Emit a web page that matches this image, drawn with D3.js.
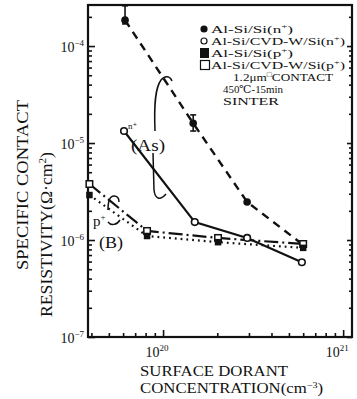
<!DOCTYPE html>
<html>
<head>
<meta charset="utf-8">
<script src="https://cdn.jsdelivr.net/npm/d3@7"></script>
<style>
  body { margin: 0; background: #fff; }
  svg { display: block; }
  text { font-family: "Liberation Serif", "DejaVu Serif", serif; fill: #111; }
</style>
</head>
<body>
<svg id="chart" width="357" height="399"></svg>
<script>
// values
const nAlSiX = [6.15e19, 1.47e20, 2.93e20, 6.0e20];
const nAlSiY = [1.85e-4, 1.6e-5, 2.47e-6, 8.9e-7];
const nAlSiErrLo = [1.69e-4, 1.33e-5, null, null];
const nAlSiErrHi = [2.6e-4, 1.95e-5, null, null];

const nWX = [6.07e19, 1.5e20, 2.93e20, 5.9e20];
const nWY = [1.33e-5, 1.53e-6, 1.05e-6, 5.9e-7];

const pAlSiX = [3.9e19, 8.15e19, 2.02e20, 6.0e20];
const pAlSiY = [2.91e-6, 1.1e-6, 9.5e-7, 8.3e-7];

const pWX = [3.9e19, 8.15e19, 2.02e20, 6.0e20];
const pWY = [3.78e-6, 1.24e-6, 1.05e-6, 9.1e-7];

const xTickVals = [1e20, 1e21];
const xTickExp = ["20", "21"];
const yTickVals = [1e-7, 1e-6, 1e-5, 1e-4];
const yTickExp = ["−7", "−6", "−5", "−4"];

const legendLabels = [
  ["Al-Si/Si(n", "+", ")"],
  ["Al-Si/CVD-W/Si(n", "+", ")"],
  ["Al-Si/Si(p", "+", ")"],
  ["Al-Si/CVD-W/Si(p", "+", ")"]
];

const svg = d3.select("#chart");
const mLeft = 88, mRight = 352, mTop = 5, mBottom = 337;

const x = d3.scaleLog().domain([3.83e19, 1.12e21]).range([mLeft, mRight]);
const y = d3.scaleLog().domain([1e-7, 2.65e-4]).range([mBottom, mTop]);

// ticks (inward)
const yMinor = y.ticks().filter(v => !yTickVals.includes(v));
const xMinor = x.ticks().filter(v => !xTickVals.includes(v));

function tickGroup(axis, tr) {
  const g = svg.append("g").attr("transform", tr).call(axis);
  g.select(".domain").remove();
  g.selectAll("text").remove();
  g.selectAll("line").attr("stroke", "#111").attr("stroke-width", 1.6);
  return g;
}
tickGroup(d3.axisLeft(y).tickValues(yTickVals).tickSize(-7), `translate(${mLeft},0)`);
tickGroup(d3.axisLeft(y).tickValues(yMinor).tickSize(-4), `translate(${mLeft},0)`);
tickGroup(d3.axisRight(y).tickValues(yTickVals).tickSize(-5), `translate(${mRight},0)`);
tickGroup(d3.axisRight(y).tickValues(yMinor).tickSize(-3), `translate(${mRight},0)`);
tickGroup(d3.axisBottom(x).tickValues(xTickVals).tickSize(-7), `translate(0,${mBottom})`);
tickGroup(d3.axisBottom(x).tickValues(xMinor).tickSize(-4), `translate(0,${mBottom})`);

// frame
svg.append("rect")
  .attr("x", mLeft).attr("y", mTop)
  .attr("width", mRight - mLeft).attr("height", mBottom - mTop)
  .attr("fill", "none").attr("stroke", "#111").attr("stroke-width", 2.2);

// tick labels
yTickVals.forEach((v, i) => {
  const t = svg.append("text").attr("x", 84).attr("y", y(v) + 6)
    .attr("text-anchor", "end").style("font-size", "14px");
  t.append("tspan").text("10");
  t.append("tspan").attr("dy", -6).style("font-size", "9px").text(yTickExp[i]);
});
xTickVals.forEach((v, i) => {
  const t = svg.append("text").attr("x", x(v) - 6).attr("y", 357)
    .attr("text-anchor", "middle").style("font-size", "14px");
  t.append("tspan").text("10");
  t.append("tspan").attr("dy", -6).style("font-size", "9px").text(xTickExp[i]);
});

// axis titles
svg.append("text").attr("x", 140).attr("y", 376)
  .attr("textLength", 148).attr("lengthAdjust", "spacingAndGlyphs")
  .style("font-size", "15px").text("SURFACE DORANT");
const xt2 = svg.append("text").attr("x", 140).attr("y", 393)
  .attr("textLength", 183).attr("lengthAdjust", "spacingAndGlyphs")
  .style("font-size", "15px");
xt2.append("tspan").text("CONCENTRATION(cm");
xt2.append("tspan").attr("dy", -5).style("font-size", "9px").text("−3");
xt2.append("tspan").attr("dy", 5).text(")");

svg.append("text").attr("transform", "translate(28,270) rotate(-90)")
  .attr("textLength", 170).attr("lengthAdjust", "spacingAndGlyphs")
  .style("font-size", "17px").text("SPECIFIC CONTACT");
const yt2 = svg.append("text").attr("transform", "translate(52,317) rotate(-90)")
  .attr("textLength", 165).attr("lengthAdjust", "spacingAndGlyphs")
  .style("font-size", "16px");
yt2.append("tspan").text("RESISTIVITY(Ω·cm");
yt2.append("tspan").attr("dy", -6).style("font-size", "10px").text("2");
yt2.append("tspan").attr("dy", 6).text(")");

// series lines
const line = d3.line().x(d => x(d[0])).y(d => y(d[1]));
const series = [
  { xs: nAlSiX, ys: nAlSiY, dash: "8,6", w: 2.4 },
  { xs: nWX, ys: nWY, dash: null, w: 2.2 },
  { xs: pAlSiX, ys: pAlSiY, dash: "1.8,4", w: 2.2 },
  { xs: pWX, ys: pWY, dash: "14,4,2,4", w: 2.2 }
];
series.forEach(s => {
  svg.append("path")
    .datum(s.xs.map((v, i) => [v, s.ys[i]]))
    .attr("d", line)
    .attr("fill", "none").attr("stroke", "#111")
    .attr("stroke-width", s.w)
    .attr("stroke-dasharray", s.dash);
});

// error bars
nAlSiX.forEach((v, i) => {
  if (nAlSiErrLo[i] == null) return;
  const cx = x(v);
  svg.append("line").attr("x1", cx).attr("x2", cx)
    .attr("y1", y(nAlSiErrLo[i])).attr("y2", y(nAlSiErrHi[i]))
    .attr("stroke", "#111").attr("stroke-width", 1.6);
  [nAlSiErrLo[i], nAlSiErrHi[i]].forEach(e => {
    svg.append("line").attr("x1", cx - 3).attr("x2", cx + 3)
      .attr("y1", y(e)).attr("y2", y(e))
      .attr("stroke", "#111").attr("stroke-width", 1.6);
  });
});

// markers
function circles(xs, ys, filled) {
  svg.append("g").selectAll("circle")
    .data(xs.map((v, i) => [v, ys[i]]))
    .join("circle")
    .attr("cx", d => x(d[0])).attr("cy", d => y(d[1]))
    .attr("r", filled ? 3.8 : 3.3)
    .attr("fill", filled ? "#111" : "#fff")
    .attr("stroke", "#111").attr("stroke-width", filled ? 0 : 1.6);
}
function squares(xs, ys, filled) {
  const s = 6.5;
  svg.append("g").selectAll("rect")
    .data(xs.map((v, i) => [v, ys[i]]))
    .join("rect")
    .attr("x", d => x(d[0]) - s / 2).attr("y", d => y(d[1]) - s / 2)
    .attr("width", s).attr("height", s)
    .attr("fill", filled ? "#111" : "#fff")
    .attr("stroke", "#111").attr("stroke-width", filled ? 0 : 1.5);
}
circles(nWX, nWY, false);
circles(nAlSiX, nAlSiY, true);
squares(pWX, pWY, false);
squares(pAlSiX, pAlSiY, true);

// annotation callouts
const ann = svg.append("g").attr("fill", "none").attr("stroke", "#111").attr("stroke-width", 1.5);
ann.append("path").attr("d", "M155,131 C154,105 155,88 161,80 C165,75 170,76 172,81");
ann.append("path").attr("d", "M153,153 L154,190 C155,199 160,201 166,194");
ann.append("path").attr("d", "M108,210 C108,200 110,196 114,196 C117,196 119,198 119,202");
ann.append("path").attr("d", "M108,222 C111,226 117,225 120,220");

svg.append("text").attr("x", 128).attr("y", 129).style("font-size", "9px").text("n⁺");
svg.append("text").attr("x", 131).attr("y", 151)
  .attr("textLength", 34).attr("lengthAdjust", "spacingAndGlyphs")
  .style("font-size", "16px").text("(As)");
const pl = svg.append("text").attr("x", 93).attr("y", 226).style("font-size", "15px");
pl.append("tspan").text("p");
pl.append("tspan").attr("dy", -6).style("font-size", "9px").text("+");
svg.append("text").attr("x", 99).attr("y", 248)
  .attr("textLength", 24).attr("lengthAdjust", "spacingAndGlyphs")
  .style("font-size", "16px").text("(B)");

// legend
const legY = [29, 41, 53, 65];
const legG = svg.append("g");
legendLabels.forEach((parts, i) => {
  const cy = legY[i];
  if (i === 0) legG.append("circle").attr("cx", 204).attr("cy", cy).attr("r", 3.6).attr("fill", "#111");
  if (i === 1) legG.append("circle").attr("cx", 204).attr("cy", cy).attr("r", 3)
    .attr("fill", "#fff").attr("stroke", "#111").attr("stroke-width", 1.2);
  if (i === 2) legG.append("rect").attr("x", 200).attr("y", cy - 5).attr("width", 9).attr("height", 10).attr("fill", "#111");
  if (i === 3) legG.append("rect").attr("x", 200.5).attr("y", cy - 4.5).attr("width", 9).attr("height", 9)
    .attr("fill", "#fff").attr("stroke", "#111").attr("stroke-width", 1.2);
  const t = legG.append("text").attr("x", 211).attr("y", cy + 4)
    .attr("textLength", i % 2 ? 134 : 82).attr("lengthAdjust", "spacingAndGlyphs")
    .style("font-size", "11px");
  t.append("tspan").text(parts[0]);
  t.append("tspan").attr("dy", -4).style("font-size", "7px").text(parts[1]);
  t.append("tspan").attr("dy", 4).text(parts[2]);
});
const c1 = legG.append("text").attr("x", 233).attr("y", 81)
  .attr("textLength", 100).attr("lengthAdjust", "spacingAndGlyphs")
  .style("font-size", "11px");
c1.append("tspan").text("1.2μm");
c1.append("tspan").attr("dy", -4).style("font-size", "7px").text("□");
c1.append("tspan").attr("dy", 4).text("CONTACT");
legG.append("text").attr("x", 223).attr("y", 93)
  .attr("textLength", 60).attr("lengthAdjust", "spacingAndGlyphs")
  .style("font-size", "11px").text("450℃-15min");
legG.append("text").attr("x", 223).attr("y", 105)
  .attr("textLength", 56).attr("lengthAdjust", "spacingAndGlyphs")
  .style("font-size", "11px").text("SINTER");
</script>
</body>
</html>
